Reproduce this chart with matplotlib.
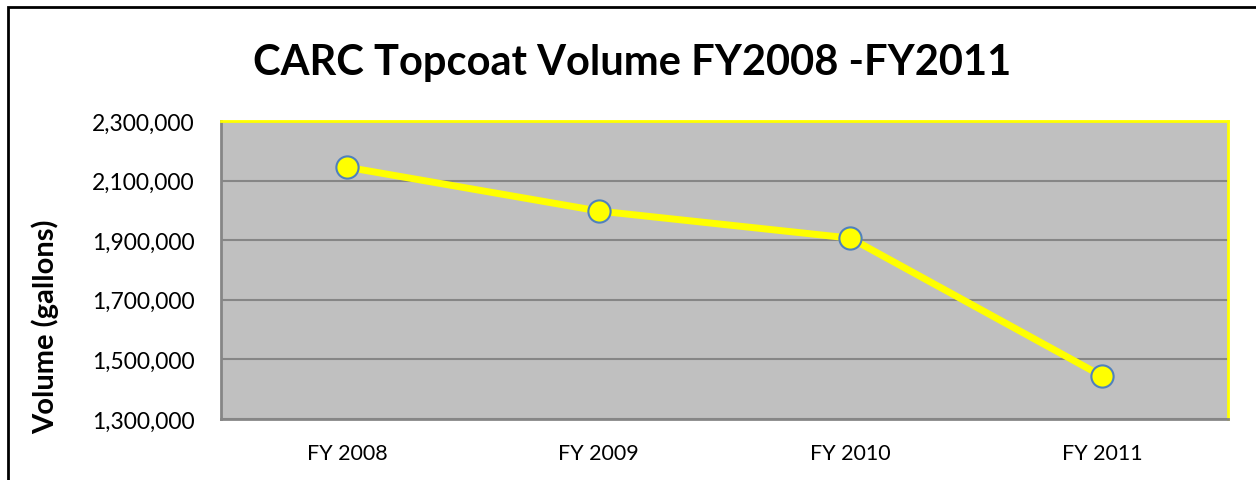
import matplotlib.pyplot as plt
from matplotlib.ticker import FuncFormatter
from matplotlib.patches import Rectangle

years = ['FY 2008', 'FY 2009', 'FY 2010', 'FY 2011']
volume = [2145000, 1998000, 1907000, 1444000]
yticks = [1300000, 1500000, 1700000, 1900000, 2100000, 2300000]

plt.rcParams['font.family'] = ['Lato', 'DejaVu Sans']

fig = plt.figure(figsize=(12.56, 4.81), dpi=100)
ax = fig.add_axes([221 / 1256, 1 - 420 / 481, 1007 / 1256, 298 / 481])

# outer chart frame
fig.patches.append(Rectangle((8 / 1256, -0.1), 1.2, (481 - 8) / 481 + 0.1, transform=fig.transFigure,
                             fill=False, edgecolor='black', linewidth=2))

ax.set_facecolor('#c0c0c0')
x = range(len(years))
ax.plot(x, volume, color='#ffff00', linewidth=5, marker='o', markersize=16,
        markerfacecolor='#ffff00', markeredgecolor='#4f81bd', markeredgewidth=1.5, zorder=3)

ax.set_xlim(-0.5, 3.5)
ax.set_ylim(1300000, 2300000)
ax.set_yticks(yticks)
ax.yaxis.set_major_formatter(FuncFormatter(lambda v, p: f'{int(v):,}'))
ax.set_xticks(list(x))
ax.set_xticklabels(years)
ax.tick_params(axis='y', length=0, labelsize=16.5, pad=19)
ax.tick_params(axis='x', length=0, labelsize=15.5, pad=17)
ax.grid(axis='y', color='#868686', linewidth=1.5)

for s in ['left', 'bottom']:
    ax.spines[s].set_color('#868686')
    ax.spines[s].set_linewidth(2)
for s in ['top', 'right']:
    ax.spines[s].set_color('#ffff00')
    ax.spines[s].set_linewidth(2)

fig.text(632 / 1256, 1 - 63 / 481, 'CARC Topcoat Volume FY2008 -FY2011', ha='center', va='center',
         fontsize=30, fontweight='bold')
fig.text(45 / 1256, 1 - 327 / 481, 'Volume (gallons)', rotation=90, ha='center', va='center',
         fontsize=21, fontweight='bold')

fig.savefig('out.png', dpi=100)
